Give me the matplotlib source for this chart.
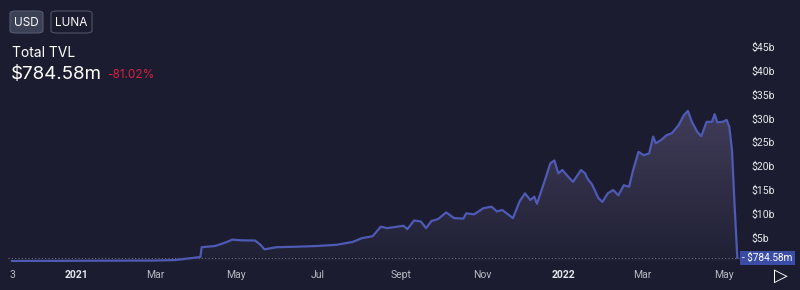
import matplotlib
matplotlib.use("Agg")
import matplotlib.pyplot as plt
import matplotlib.dates as mdates
from matplotlib.patches import FancyBboxPatch, Polygon
import numpy as np
import pandas as pd

plt.rcParams['font.family'] = ['Roboto', 'DejaVu Sans']

# ---- data (TVL in billions USD) ----
dates = ["2020-11-14", "2021-01-01", "2021-03-01", "2021-03-16", "2021-04-04", "2021-04-05",
         "2021-04-15", "2021-04-23", "2021-04-28", "2021-05-04", "2021-05-15", "2021-05-19",
         "2021-05-22", "2021-05-31", "2021-06-15", "2021-06-30", "2021-07-15", "2021-07-27",
         "2021-08-03", "2021-08-11", "2021-08-17", "2021-08-22", "2021-09-03", "2021-09-06",
         "2021-09-11", "2021-09-16", "2021-09-20", "2021-09-24", "2021-09-29", "2021-10-05",
         "2021-10-11", "2021-10-18", "2021-10-20", "2021-10-26", "2021-11-02", "2021-11-08",
         "2021-11-12", "2021-11-16", "2021-11-21", "2021-11-24", "2021-11-29", "2021-12-03",
         "2021-12-07", "2021-12-10", "2021-12-12", "2021-12-18", "2021-12-22", "2021-12-25",
         "2021-12-28", "2021-12-31", "2022-01-04", "2022-01-08", "2022-01-14", "2022-01-17",
         "2022-01-19", "2022-01-22", "2022-01-27", "2022-01-30", "2022-02-03", "2022-02-07",
         "2022-02-11", "2022-02-15", "2022-02-19", "2022-02-22", "2022-02-26", "2022-03-02",
         "2022-03-06", "2022-03-09", "2022-03-11", "2022-03-15", "2022-03-19", "2022-03-23",
         "2022-03-28", "2022-04-01", "2022-04-04", "2022-04-07", "2022-04-11", "2022-04-14",
         "2022-04-18", "2022-04-22", "2022-04-24", "2022-04-26", "2022-04-30", "2022-05-03",
         "2022-05-05", "2022-05-07", "2022-05-09", "2022-05-11"]
tvl = [0.10, 0.15, 0.20, 0.30, 0.95, 3.0,
       3.25, 4.0, 4.6, 4.45, 4.4, 3.5,
       2.55, 3.0, 3.1, 3.25, 3.5, 4.1,
       4.9, 5.3, 7.3, 7.0, 7.5, 6.8,
       8.6, 8.4, 7.0, 8.5, 8.9, 10.3,
       9.1, 9.0, 10.1, 9.9, 11.2, 11.5,
       10.5, 10.8, 9.75, 9.1, 12.6, 14.3,
       12.9, 13.6, 12.1, 17.1, 20.6, 21.2,
       18.5, 19.2, 17.9, 16.7, 19.2, 18.5,
       17.3, 16.3, 13.3, 12.5, 14.3, 15.0,
       13.9, 16.0, 15.7, 19.2, 23.0, 22.3,
       22.7, 26.2, 24.8, 25.5, 26.5, 26.9,
       28.6, 30.7, 31.6, 29.3, 27.2, 26.3,
       29.3, 29.3, 30.9, 29.2, 29.3, 29.7,
       28.3, 23.4, 11.5, 0.78458]
current_label = "$784.58m"
change_label = "-81.02%"
ytick_vals = [5, 10, 15, 20, 25, 30, 35, 40, 45]
ytick_labels = ["$5b", "$10b", "$15b", "$20b", "$25b", "$30b", "$35b", "$40b", "$45b"]
xtick_dates = ["2020-11-14", "2021-01-01", "2021-03-01", "2021-05-01", "2021-07-01",
               "2021-09-01", "2021-11-01", "2022-01-01", "2022-03-01", "2022-05-01"]
xtick_labels = ["3", "2021", "Mar", "May", "Jul", "Sept", "Nov", "2022", "Mar", "May"]

BG = "#1b1c2f"
LINE = "#4e5ab4"

W, H = 800, 290
fig = plt.figure(figsize=(8, 2.9), dpi=100, facecolor=BG)

def fx(px):
    return px / W

def fy(py):
    return 1 - py / H

# axes: x from px 8 to 740 ; y: 0 at px 261.5, 45b at px 47
ax = fig.add_axes([fx(8), fy(261.5), fx(740) - fx(8), fy(47) - fy(261.5)])
ax.set_facecolor(BG)
ax.patch.set_alpha(0)

d = pd.to_datetime(dates)
x = mdates.date2num(d)
y = np.array(tvl)

x0 = mdates.date2num(pd.Timestamp("2020-11-11"))
x1 = mdates.date2num(pd.Timestamp("2022-05-13"))
ax.set_xlim(x0, x1)
ax.set_ylim(0, 45)

# gradient fill
poly_xy = np.vstack([np.column_stack([x, y]), [[x[-1], 0], [x[0], 0]]])
poly = Polygon(poly_xy, closed=True, facecolor="none", edgecolor="none")
ax.add_patch(poly)
ymax = 32
grad = np.linspace(0, 1, 256).reshape(-1, 1)
top = np.array([0x42, 0x3d, 0x5a]) / 255
bot = np.array([0x1f, 0x20, 0x34]) / 255
img = bot + (top - bot) * grad[..., None]
img = img.reshape(256, 1, 3)
im = ax.imshow(img, extent=[x0, x1, 0, ymax], origin="lower", aspect="auto", zorder=1)
im.set_clip_path(poly)

ax.plot(x, y, color=LINE, lw=1.6, zorder=3, solid_joinstyle="round")

# dotted current value line
ax.axhline(tvl[-1], color="#6a6d80", lw=0.8, ls=(0, (1, 2)), zorder=2)

for s in ax.spines.values():
    s.set_visible(False)

ax.yaxis.tick_right()
ax.set_yticks(ytick_vals)
ax.set_yticklabels(ytick_labels)
ax.tick_params(axis="y", length=0, pad=8, labelsize=7.5, labelcolor="#e8e8ee")

ax.set_xticks(mdates.date2num(pd.to_datetime(xtick_dates)))
ax.set_xticklabels(xtick_labels)
ax.tick_params(axis="x", length=0, pad=6, labelsize=7.5, labelcolor="#b8b9c4")
for lbl in ax.get_xticklabels():
    if lbl.get_text() in ("2021", "2022"):
        lbl.set_fontweight("bold")
        lbl.set_color("#e6e6ee")
ax.grid(False)

# current value tag
fig.patches.append(FancyBboxPatch((fx(740), fy(265)), fx(795) - fx(740), fy(251) - fy(265),
                                  boxstyle="square,pad=0", transform=fig.transFigure,
                                  facecolor="#3b4ca6", edgecolor="none"))
fig.text(fx(742), fy(258), "- " + current_label, color="white", fontsize=7.2,
         va="center", ha="left")

# play icon
fig.text(fx(781), fy(276), "\u25B7", color="white", fontsize=13, ha="center", va="center",
         family="DejaVu Sans")

# buttons
fig.patches.append(FancyBboxPatch((fx(10), fy(33)), fx(43) - fx(10), fy(11) - fy(33),
                                  boxstyle="round,pad=0,rounding_size=0.008",
                                  transform=fig.transFigure,
                                  facecolor="#3d4156", edgecolor="#555a70", lw=0.8))
fig.text(fx(26.5), fy(22.5), "USD", color="white", fontsize=8.5, ha="center", va="center",
         family="Inter")
fig.patches.append(FancyBboxPatch((fx(51), fy(33)), fx(92) - fx(51), fy(11) - fy(33),
                                  boxstyle="round,pad=0,rounding_size=0.008",
                                  transform=fig.transFigure,
                                  facecolor=BG, edgecolor="#4f5266", lw=0.8))
fig.text(fx(71.5), fy(22.5), "LUNA", color="white", fontsize=8.5, ha="center", va="center",
         family="Inter")

fig.text(fx(12), fy(53), "Total TVL", color="white", fontsize=10, ha="left", va="center",
         family="Inter")
fig.text(fx(11), fy(74), current_label, color="white", fontsize=13.5, ha="left", va="center",
         family="Inter")
fig.text(fx(107), fy(75.5), change_label, color="#d6213f", fontsize=8.5, ha="left", va="center",
         family="Inter")

fig.savefig("out.png", dpi=100, facecolor=BG)
